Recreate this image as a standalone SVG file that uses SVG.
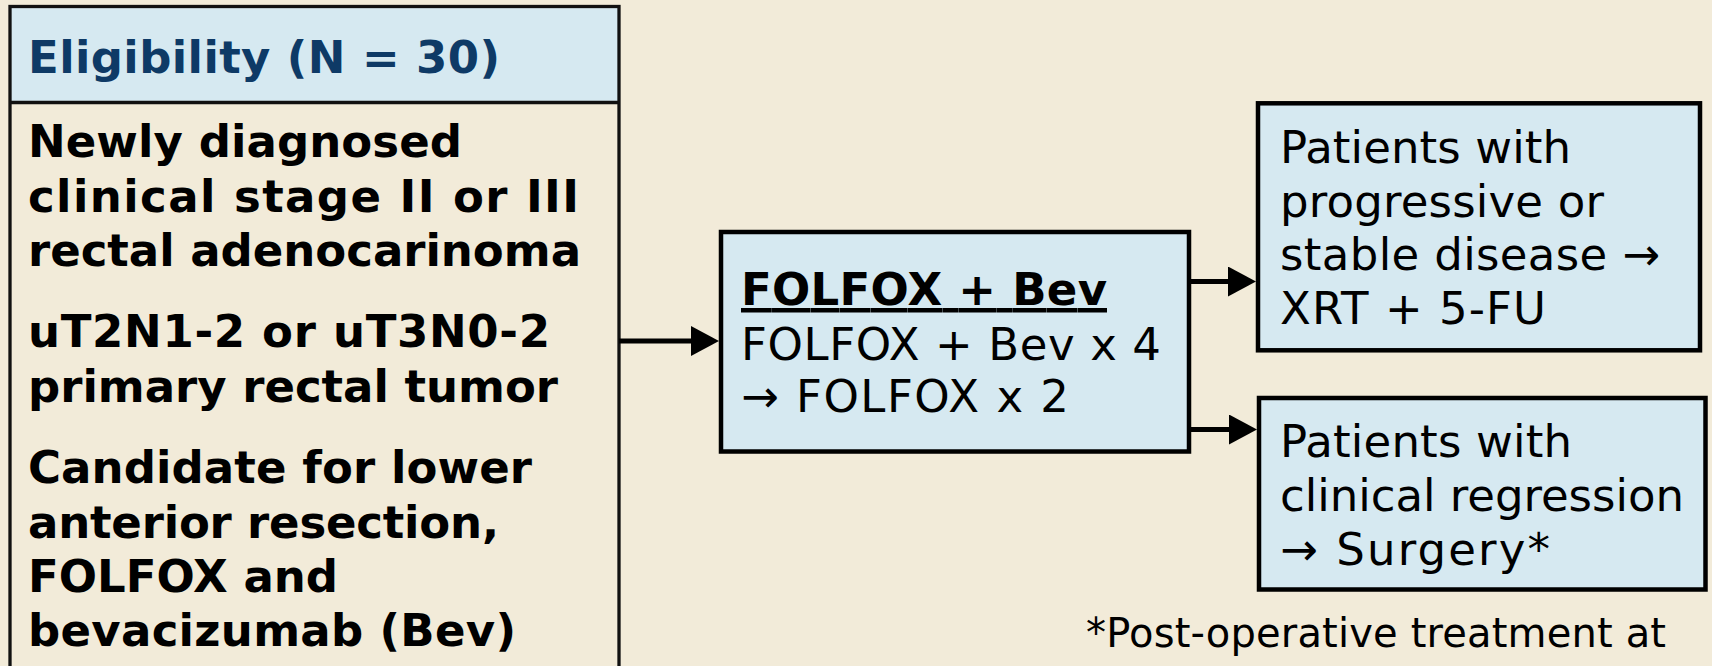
<svg xmlns="http://www.w3.org/2000/svg" width="1712" height="666" viewBox="0 0 1712 666">
  <defs>
    <style>
      .bg { fill: #F2EBD9; }
      .box { fill: #D6E9F1; stroke: #000; stroke-width: 4.5; }
      .frame { fill: none; stroke: #111; stroke-width: 3.3; }
      .t { font-family: "DejaVu Sans", Verdana, sans-serif; font-size: 45px; fill: #000; }
      .b { font-weight: bold; }
      .hd { fill: #0E3A66; }
      .note { font-size: 40px; }
      .conn { stroke: #000; stroke-width: 5; fill: none; }
    </style>
    <marker id="arrow" markerUnits="userSpaceOnUse" markerWidth="28" markerHeight="30" refX="1" refY="15" orient="auto" viewBox="0 0 28 30">
      <path d="M0,0 L28,15 L0,30 Z" fill="#000"/>
    </marker>
  </defs>

  <rect class="bg" x="0" y="0" width="1712" height="666"/>

  <!-- Eligibility panel: header band plus criteria list, running off the bottom edge -->
  <g id="eligibility">
    <rect x="10" y="6.5" width="609" height="96" fill="#D6E9F1"/>
    <rect class="frame" x="10" y="6.5" width="609" height="720"/>
    <line x1="10" y1="102.5" x2="619" y2="102.5" stroke="#111" stroke-width="3.3"/>
    <text class="t b hd" x="28" y="73" textLength="472">Eligibility (N = 30)</text>
    <text class="t b" x="28" y="157" textLength="434">Newly diagnosed</text>
    <text class="t b" x="28" y="211.5" textLength="551">clinical stage II or III</text>
    <text class="t b" x="28" y="266" textLength="553">rectal adenocarinoma</text>
    <text class="t b" x="28" y="347" textLength="522">uT2N1-2 or uT3N0-2</text>
    <text class="t b" x="28" y="401.5" textLength="530">primary rectal tumor</text>
    <text class="t b" x="28" y="483" textLength="504">Candidate for lower</text>
    <text class="t b" x="28" y="537.5" textLength="471">anterior resection,</text>
    <text class="t b" x="28" y="592" textLength="310">FOLFOX and</text>
    <text class="t b" x="28" y="646" textLength="488">bevacizumab (Bev)</text>
  </g>

  <!-- Induction regimen -->
  <g id="regimen">
    <rect class="box" x="721" y="232" width="468" height="219.5"/>
    <text class="t b" x="741" y="305" textLength="366" text-decoration="underline">FOLFOX + Bev</text>
    <text class="t" x="741" y="359.5" textLength="420">FOLFOX + Bev x 4</text>
    <text class="t" x="741" y="412" textLength="328">→ FOLFOX x 2</text>
  </g>

  <!-- Outcome: no response -->
  <g id="no-response">
    <rect class="box" x="1258" y="103.3" width="442" height="247"/>
    <text class="t" x="1280" y="163" textLength="291">Patients with</text>
    <text class="t" x="1280" y="216.5" textLength="324">progressive or</text>
    <text class="t" x="1280" y="270" textLength="380">stable disease →</text>
    <text class="t" x="1280" y="324" textLength="266">XRT + 5-FU</text>
  </g>

  <!-- Outcome: regression -->
  <g id="regression">
    <rect class="box" x="1259" y="398" width="446.5" height="191.5"/>
    <text class="t" x="1280" y="457" textLength="292">Patients with</text>
    <text class="t" x="1280" y="511" textLength="404">clinical regression</text>
    <text class="t" x="1280" y="565" textLength="270">→ Surgery*</text>
  </g>

  <g id="footnote">
    <text class="t note" x="1086" y="647" textLength="580">*Post-operative treatment at</text>
  </g>

  <g id="connectors">
    <line class="conn" x1="619" y1="341" x2="692" y2="341" marker-end="url(#arrow)"/>
    <line class="conn" x1="1189" y1="281.5" x2="1229" y2="281.5" marker-end="url(#arrow)"/>
    <line class="conn" x1="1189" y1="429.5" x2="1230" y2="429.5" marker-end="url(#arrow)"/>
  </g>
</svg>
